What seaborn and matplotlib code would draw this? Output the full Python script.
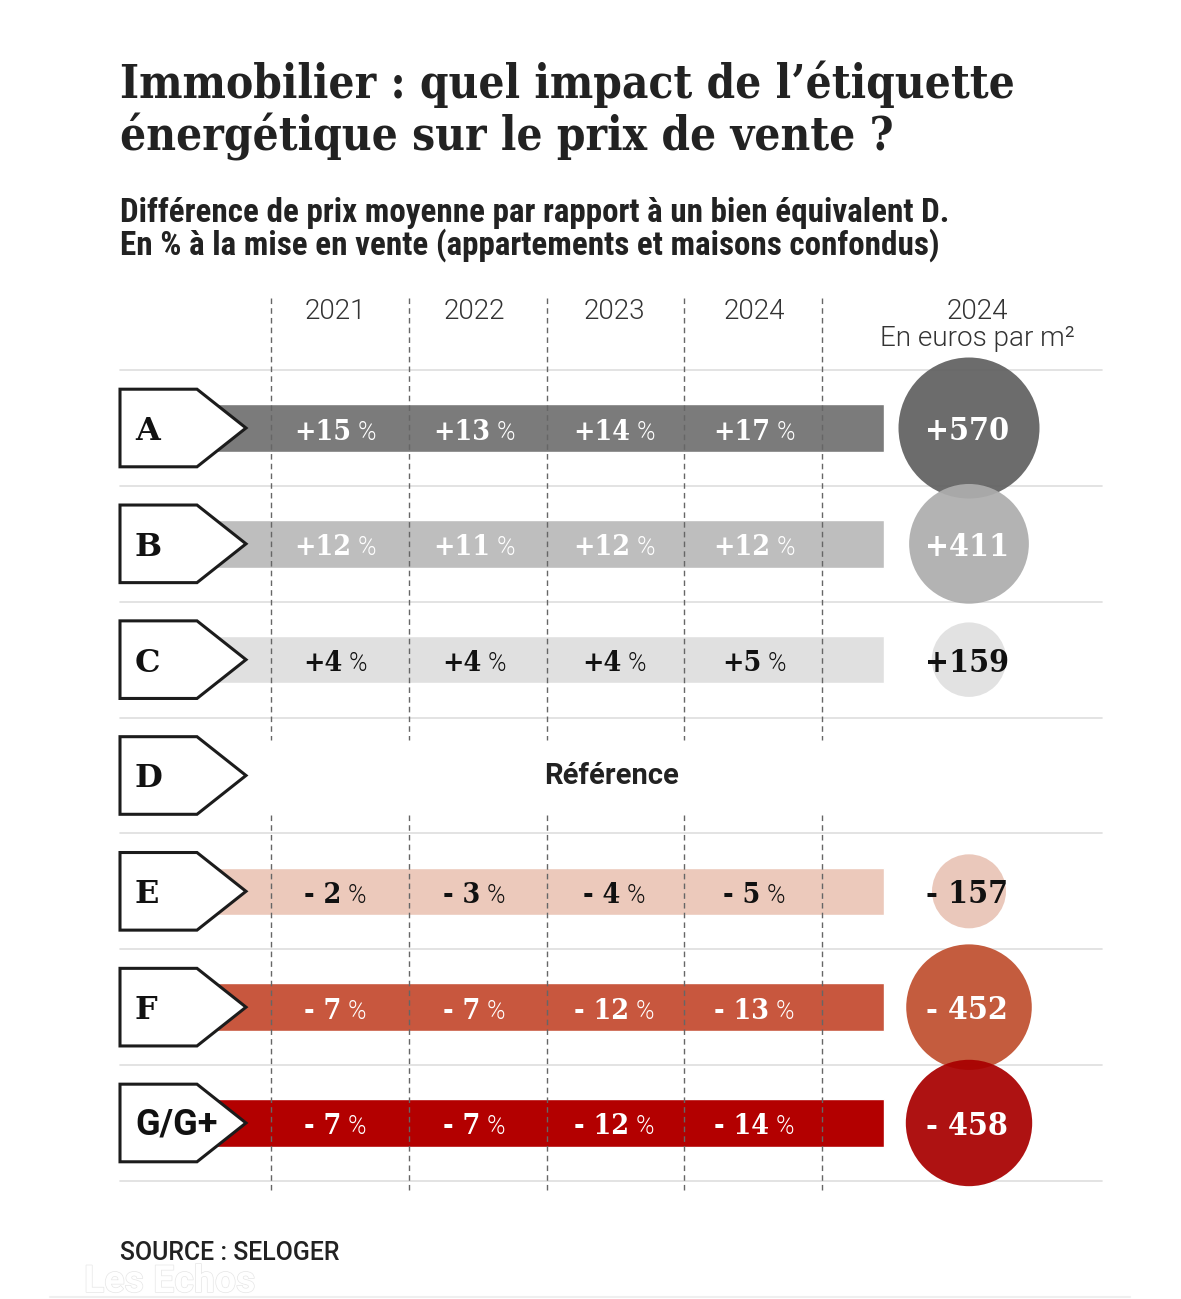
import os
import matplotlib
matplotlib.use("Agg")
import matplotlib.pyplot as plt
import matplotlib.patheffects as pe
from matplotlib import font_manager as fm
from matplotlib.patches import Polygon
import numpy as np
import pandas as pd
import seaborn as sns

# ---------------- data ----------------
categories = ["A", "B", "C", "D", "E", "F", "G/G+"]
years = ["2021", "2022", "2023", "2024"]
pct_2021 = [15, 12, 4, None, -2, -7, -7]
pct_2022 = [13, 11, 4, None, -3, -7, -7]
pct_2023 = [14, 12, 4, None, -4, -12, -12]
pct_2024 = [17, 12, 5, None, -5, -13, -14]
eur_m2_2024 = [570, 411, 159, None, -157, -452, -458]
reference_label = "Référence"
header_right = ["2024", "En euros par m²"]
title_lines = ["Immobilier : quel impact de l\u2019étiquette",
               "énergétique sur le prix de vente ?"]
subtitle_lines = ["Différence de prix moyenne par rapport à un bien équivalent D.",
                  "En % à la mise en vente (appartements et maisons confondus)"]
source_text = "SOURCE : SELOGER"
watermark = "Les Echos"

# ---------------- styles ----------------
bar_colors = {"A": "#7b7b7b", "B": "#bebebe", "C": "#e0e0e0",
              "E": "#ecc9bb", "F": "#c8573e", "G/G+": "#b30000"}
circle_colors = {"A": "#616161", "B": "#adadad", "C": "#e0e0e0",
                 "E": "#e9c4b6", "F": "#c0502f", "G/G+": "#a80000"}
dark_rows = {"C", "E"}

sns.set_theme(style="white")
plt.rcParams["font.family"] = ["DejaVu Sans"]

_paths = {}
for f in fm.fontManager.ttflist:
    _paths.setdefault(os.path.basename(f.fname), f.fname)


def pick(files, family="DejaVu Sans", weight="normal"):
    for name in files:
        if name in _paths:
            return fm.FontProperties(fname=_paths[name])
    return fm.FontProperties(family=family, weight=weight)


def fp(base, size):
    p = base.copy()
    p.set_size(size)
    return p


TITLE = pick(["DejaVuSerifCondensed-Bold.ttf", "LiberationSerif-Bold.ttf",
              "DejaVuSerif-Bold.ttf"], "serif", "bold")
SUB = pick(["RobotoCondensed-Bold.ttf", "LiberationSansNarrow-Bold.ttf",
            "DejaVuSansCondensed-Bold.ttf", "Roboto-Bold.ttf",
            "LiberationSans-Bold.ttf"], "sans-serif", "bold")
LIGHT = pick(["Roboto-Light.ttf", "Lato-Light.ttf", "OpenSans-Light.ttf",
              "Roboto-Regular.ttf"], "Roboto", "light")
NUM = pick(["DejaVuSerifCondensed-Bold.ttf", "DejaVuSerif-Bold.ttf"], "DejaVu Serif", "bold")
LETTER = pick(["DejaVuSerif-Bold.ttf"], "DejaVu Serif", "bold")
SANSB = pick(["Roboto-Bold.ttf", "LiberationSans-Bold.ttf"], "Roboto", "bold")
MED = pick(["Roboto-Medium.ttf", "Roboto-Regular.ttf", "LiberationSans-Regular.ttf"], "Roboto", "medium")

# ---------------- layout ----------------
W, H = 1181, 1299
fig = plt.figure(figsize=(W / 100, H / 100), dpi=100)
fig.patch.set_facecolor("white")

bg = fig.add_axes([0, 0, 1, 1])
bg.set_xlim(0, W)
bg.set_ylim(H, 0)
bg.axis("off")

row0, rowh = 428.0, 115.83
top_px, bot_px = row0 - rowh / 2, row0 + 6.5 * rowh
tab = fig.add_axes([0, 1 - bot_px / H, 1, (bot_px - top_px) / H])
tab.patch.set_alpha(0)


def py(p):
    return (p - row0) / rowh


col_x = [335, 474, 614, 754]
dash_x = [271, 409, 547, 684, 822]
circ_x = 969
bar_left, bar_right = 205, 884
tag_l, tag_r, tag_tip, tag_half = 120, 197, 246, 0.335

# gridlines
for k in range(len(categories) + 1):
    tab.plot([120, 1102], [k - 0.5, k - 0.5], color="#dedede", lw=1.2,
             zorder=1, clip_on=False)

# dashed column separators
for x in dash_x:
    for a, b in [(298, 740), (815, 1190)]:
        tab.plot([x, x], [py(a), py(b)], color="#666666", lw=1.0,
                 linestyle=(0, (4, 3)), zorder=3, clip_on=False)

# bars
for i, c in enumerate(categories):
    if pct_2021[i] is None:
        continue
    tab.barh(i, bar_right - bar_left, left=bar_left, height=0.41,
             color=bar_colors[c], zorder=2)

# tags
for i, c in enumerate(categories):
    poly = Polygon([(tag_l, i - tag_half), (tag_r, i - tag_half), (tag_tip, i),
                    (tag_r, i + tag_half), (tag_l, i + tag_half)], closed=True,
                   facecolor="white", edgecolor="#1c1c1c", lw=2.2, zorder=4,
                   joinstyle="miter", clip_on=False)
    tab.add_patch(poly)
    font = fp(SANSB, 26) if "/" in c else fp(LETTER, 23)
    tab.text(135, i + 12 / rowh, c, ha="left", va="baseline",
             fontproperties=font, color="#111111", zorder=6)

# percentage labels
pairs = []
series = [pct_2021, pct_2022, pct_2023, pct_2024]
for i, c in enumerate(categories):
    if pct_2021[i] is None:
        continue
    col = "#111111" if c in dark_rows else "white"
    for j, vals in enumerate(series):
        v = vals[i]
        s = f"+{v}" if v > 0 else f"- {abs(v)}"
        t1 = tab.text(col_x[j], i + 11.5 / rowh, s, ha="left", va="baseline",
                      fontproperties=fp(NUM, 20.5), color=col, zorder=7)
        t2 = tab.text(col_x[j], i + 11.5 / rowh, "%", ha="left", va="baseline",
                      fontproperties=fp(LIGHT, 18), color=col, zorder=7)
        pairs.append((t1, t2, col_x[j]))

# reference row
ref_t = tab.text(612, py(776) + 8 / rowh, reference_label, ha="center", va="baseline",
                 fontproperties=fp(SANSB, 17.5), color="#222222", zorder=7)

# circles (area proportional to the euro value)
circ = pd.DataFrame({"cat": categories, "eur": eur_m2_2024})
circ = circ.dropna().reset_index(drop=True)
circ["row"] = [categories.index(c) for c in circ["cat"]]
circ["abs_eur"] = circ["eur"].abs()
circ["x"] = circ_x
k_area = (141 * 0.72) ** 2 / 570.0
vmin, vmax = circ["abs_eur"].min(), circ["abs_eur"].max()
sns.scatterplot(data=circ, x="x", y="row", hue="cat", palette=circle_colors,
                size="abs_eur", sizes=(k_area * vmin, k_area * vmax),
                size_norm=(vmin, vmax), legend=False, alpha=0.93,
                linewidth=0, edgecolor="none", ax=tab, zorder=5)
for coll in tab.collections:
    coll.set_clip_on(False)

for _, r in circ.iterrows():
    v = int(r["eur"])
    s = f"+{v}" if v > 0 else f"- {abs(v)}"
    col = "#111111" if r["cat"] in dark_rows else "white"
    tab.text(circ_x - 2, r["row"] + 12 / rowh, s, ha="center", va="baseline",
             fontproperties=fp(NUM, 23), color=col, zorder=7)

tab.set_xlim(0, W)
tab.set_ylim(6.5, -0.5)
tab.axis("off")

# ---------------- header texts ----------------
t_title = [bg.text(120, 98, title_lines[0], ha="left", va="baseline",
                   fontproperties=fp(TITLE, 36), color="#222222"),
           bg.text(120, 150, title_lines[1], ha="left", va="baseline",
                   fontproperties=fp(TITLE, 36), color="#222222")]
t_sub = [bg.text(120, 222, subtitle_lines[0], ha="left", va="baseline",
                 fontproperties=fp(SUB, 19), color="#222222"),
         bg.text(120, 255, subtitle_lines[1], ha="left", va="baseline",
                 fontproperties=fp(SUB, 19), color="#222222")]
t_years = [bg.text(x, 319, y, ha="center", va="baseline",
                   fontproperties=fp(LIGHT, 18), color="#333333")
           for x, y in zip(col_x, years)]
t_r1 = bg.text(977, 319, header_right[0], ha="center", va="baseline",
               fontproperties=fp(LIGHT, 18), color="#333333")
t_r2 = bg.text(977, 346, header_right[1], ha="center", va="baseline",
               fontproperties=fp(LIGHT, 18), color="#333333")
t_src = bg.text(120, 1260, source_text, ha="left", va="baseline",
                fontproperties=fp(MED, 17), color="#222222")
bg.text(84, 1292, watermark, ha="left", va="baseline",
        fontproperties=fp(SANSB, 27), color="white",
        path_effects=[pe.withStroke(linewidth=1.0, foreground="#e6e6e6")])
bg.plot([50, 1130], [1297, 1297], color="#efefef", lw=1.5)

# ---------------- fit sizes / centre split labels ----------------
fig.canvas.draw()
rend = fig.canvas.get_renderer()


def fit(texts, target):
    w = texts[0].get_window_extent(rend).width
    s = texts[0].get_fontsize() * target / w
    for t in texts:
        t.set_fontsize(s)
    return s


fit(t_title, 895)
fit(t_sub, 833)
s_hdr = fit([t_r2], 195)
for t in t_years + [t_r1]:
    t.set_fontsize(s_hdr)
fit([t_src], 220)
fit([ref_t], 134)

fig.canvas.draw()
gap = 6
for t1, t2, xc in pairs:
    w1 = t1.get_window_extent(rend).width
    w2 = t2.get_window_extent(rend).width
    left = xc - (w1 + gap + w2) / 2
    t1.set_x(left)
    t2.set_x(left + w1 + gap)

fig.savefig("out.png", dpi=100, facecolor="white")
